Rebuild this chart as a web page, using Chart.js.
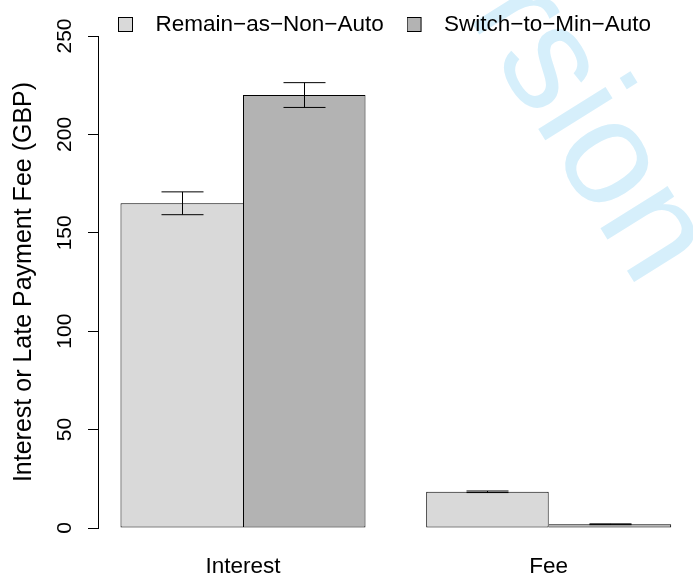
<!DOCTYPE html>
<html>
<head>
<meta charset="utf-8">
<script src="https://cdn.jsdelivr.net/npm/chart.js@4"></script>
<style>
  html, body { margin: 0; padding: 0; background: #fff; }
  #wrap { width: 693px; height: 574px; position: relative; }
</style>
</head>
<body>
<div id="wrap"><canvas id="chart"></canvas></div>
<script>
const categories = ["Interest", "Fee"];
const seriesNames = ["Remain\u2212as\u2212Non\u2212Auto", "Switch\u2212to\u2212Min\u2212Auto"];
const remainValues = [165, 18.4];
const remainErrors = [5.8, 0.4];
const switchValues = [220, 1.9];
const switchErrors = [6.3, 0.2];
const yTicks = [0, 50, 100, 150, 200, 250];
const yTitle = "Interest or Late Payment Fee (GBP)";
const watermark = "Version";

const FONT = "'Liberation Sans', Arial, Helvetica, sans-serif";
const errors = [remainErrors, switchErrors];
const fills = ["#d9d9d9", "#b3b3b3"];

function toPoints(values) {
  return values.map((v, i) => ({ x: i + 1, y: v }));
}

// legend swatch: box sits at the left of a wider canvas so the text gap is R-like
function swatch(fill) {
  const c = document.createElement("canvas");
  c.width = 30; c.height = 15;
  const g = c.getContext("2d");
  g.fillStyle = "#000";
  g.fillRect(0, 0, 15, 15);
  g.fillStyle = fill;
  g.fillRect(1, 1, 13, 13);
  return c;
}

// light blue watermark behind everything
const watermarkPlugin = {
  id: "watermark",
  beforeDraw(chart) {
    const ctx = chart.ctx;
    ctx.save();
    ctx.translate(374, -134);
    ctx.rotate(58 * Math.PI / 180);
    ctx.font = "150px " + FONT;
    ctx.fillStyle = "#d6effb";
    ctx.textBaseline = "alphabetic";
    ctx.fillText(watermark, 0, 0);
    ctx.restore();
  }
};

// R legend is not centred on the plot, nudge it (keep bottom so the clip box still holds the text)
const legendShift = {
  id: "legendShift",
  afterLayout(chart) {
    const l = chart.legend;
    l.left += 95.25; l.right += 95.25;
    l.top -= 13.25;
  }
};

const errorBars = {
  id: "errorBars",
  afterDatasetsDraw(chart) {
    const ctx = chart.ctx;
    const y = chart.scales.y;
    ctx.save();
    ctx.strokeStyle = "#000";
    ctx.lineWidth = 1;
    chart.data.datasets.forEach((ds, di) => {
      const meta = chart.getDatasetMeta(di);
      meta.data.forEach((bar, i) => {
        const v = ds.data[i].y, e = errors[di][i];
        const top = y.getPixelForValue(v + e);
        const bot = y.getPixelForValue(v - e);
        const x = Math.round(bar.x) + 0.5;
        ctx.beginPath();
        ctx.moveTo(x, top); ctx.lineTo(x, bot);
        ctx.moveTo(x - 21, top); ctx.lineTo(x + 21, top);
        ctx.moveTo(x - 21, bot); ctx.lineTo(x + 21, bot);
        ctx.stroke();
      });
    });
    ctx.restore();
  }
};

const barStyle = {
  borderColor: "#000",
  borderSkipped: false,
  categoryPercentage: 0.8015,
  barPercentage: 1
};

// the shared edge of two neighbouring bars is drawn once, by the taller bar
new Chart(document.getElementById("chart"), {
  type: "bar",
  data: {
    datasets: [
      Object.assign({
        label: seriesNames[0], data: toPoints(remainValues), backgroundColor: fills[0],
        pointStyle: swatch(fills[0]),
        borderWidth: (c) => ({ top: 1, left: 1, bottom: 1,
          right: remainValues[c.dataIndex] >= switchValues[c.dataIndex] ? 1 : 0 })
      }, barStyle),
      Object.assign({
        label: seriesNames[1], data: toPoints(switchValues), backgroundColor: fills[1],
        pointStyle: swatch(fills[1]),
        borderWidth: (c) => ({ top: 1, right: 1, bottom: 1,
          left: switchValues[c.dataIndex] > remainValues[c.dataIndex] ? 1 : 0 })
      }, barStyle)
    ]
  },
  options: {
    responsive: true,
    maintainAspectRatio: false,
    animation: false,
    layout: { padding: { top: 0, right: 13, bottom: 0, left: 0 } },
    plugins: {
      tooltip: { enabled: false },
      legend: {
        position: "top",
        align: "start",
        fullSize: true,
        maxHeight: 36,
        labels: {
          usePointStyle: true,
          boxWidth: 22.5,
          boxHeight: 15,
          padding: 26.5,
          color: "#000",
          font: { family: FONT, size: 22.5 },
          generateLabels(chart) {
            return chart.data.datasets.map((ds, i) => ({
              text: ds.label,
              fillStyle: ds.backgroundColor,
              strokeStyle: "#000",
              lineWidth: 1,
              pointStyle: ds.pointStyle,
              datasetIndex: i,
              hidden: false
            }));
          }
        }
      }
    },
    scales: {
      x: {
        type: "linear",
        offset: false,
        min: 0.5257,
        max: 2.4295,
        grid: { display: false, offset: false },
        border: { display: false },
        afterBuildTicks(scale) {
          scale.ticks = categories.map((c, i) => ({ value: i + 1 }));
        },
        afterFit(scale) { scale.height = 46; },
        ticks: {
          padding: 16.8,
          color: "#000",
          font: { family: FONT, size: 22.5 },
          callback: (v) => categories[v - 1]
        }
      },
      y: {
        min: 0,
        max: 250,
        afterBuildTicks(scale) {
          scale.ticks = yTicks.map(v => ({ value: v }));
        },
        afterFit(scale) { scale.width = 98; },
        grid: {
          drawOnChartArea: false,
          drawTicks: true,
          tickLength: 10,
          color: "#000"
        },
        border: { display: true, color: "#000", width: 1 },
        ticks: {
          minRotation: 90,
          maxRotation: 90,
          crossAlign: "center",
          padding: 5,
          color: "#000",
          font: { family: FONT, size: 21 }
        },
        title: {
          display: true,
          text: yTitle,
          color: "#000",
          font: { family: FONT, size: 25 },
          padding: { top: 9, bottom: 10 }
        }
      }
    }
  },
  plugins: [watermarkPlugin, legendShift, errorBars]
});
</script>
</body>
</html>
